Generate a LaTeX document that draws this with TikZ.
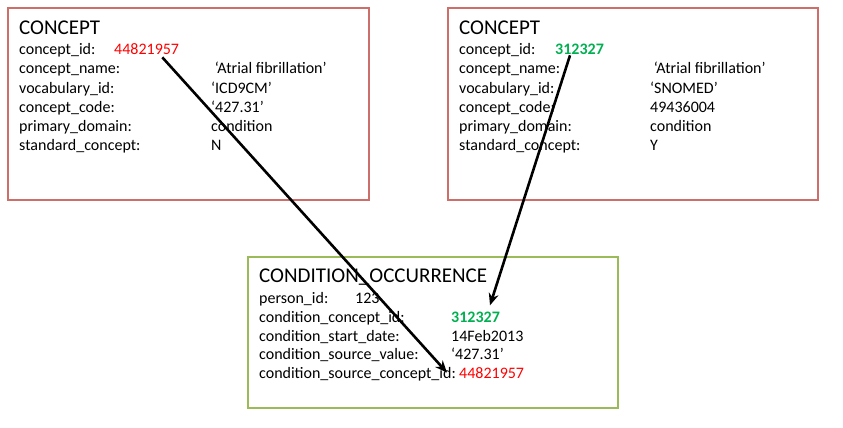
\documentclass[tikz,border=0pt]{standalone}
\usepackage{fontspec}
\setmainfont{Carlito}
\usetikzlibrary{arrows.meta}
\definecolor{boxred}{RGB}{205,110,106}
\definecolor{boxgreen}{RGB}{155,187,89}
\definecolor{valred}{RGB}{255,0,0}
\definecolor{valgreen}{RGB}{0,176,80}
\begin{document}
\begin{tikzpicture}[x=1pt,y=-1pt]
\tikzstyle{tablebox}=[line width=2.6pt]
\tikzstyle{title}=[anchor=base west,inner sep=0pt,font=\fontsize{21}{25}\selectfont]
\tikzstyle{field}=[anchor=base west,inner sep=0pt,font=\fontsize{16}{19}\selectfont]
\tikzstyle{link}=[line width=2.6pt,-{Stealth[length=12pt,width=10pt]}]
\useasboundingbox (0,0) rectangle (843,428);
% source concept
\draw[tablebox,boxred] (8,8) rectangle (369,200);
\node[title] (ltitle) at (19,35) {CONCEPT};
\node[field] (lid) at (19,55) {concept\_id:};
\node[field,text=valred] (lval) at (114,55) {44821957};
\node[field] (lname) at (19,74) {concept\_name:};
\node[field] (lnameval) at (211,74) {\ ‘Atrial fibrillation’};
\node[field] (lvoc) at (19,93) {vocabulary\_id:};
\node[field] (lvocval) at (211,93) {‘ICD9CM’};
\node[field] (lcode) at (19,112) {concept\_code:};
\node[field] (lcodeval) at (211,112) {‘427.31’};
\node[field] (ldom) at (19,131) {primary\_domain:};
\node[field] (ldomval) at (211,131) {condition};
\node[field] (lstd) at (19,150) {standard\_concept:};
\node[field] (lstdval) at (211,150) {N};
% standard concept
\draw[tablebox,boxred] (448,8) rectangle (818,200);
\node[title] (rtitle) at (459,35) {CONCEPT};
\node[field] (rid) at (459,55) {concept\_id:};
\node[field,text=valgreen,font=\fontsize{16}{19}\selectfont\bfseries] (rval) at (555,55) {312327};
\node[field] (rname) at (459,74) {concept\_name:};
\node[field] (rnameval) at (650,74) {\ ‘Atrial fibrillation’};
\node[field] (rvoc) at (459,93) {vocabulary\_id:};
\node[field] (rvocval) at (650,93) {‘SNOMED’};
\node[field] (rcode) at (459,112) {concept\_code:};
\node[field] (rcodeval) at (650,112) {49436004};
\node[field] (rdom) at (459,131) {primary\_domain:};
\node[field] (rdomval) at (650,131) {condition};
\node[field] (rstd) at (459,150) {standard\_concept:};
\node[field] (rstdval) at (650,150) {Y};
% condition occurrence
\draw[tablebox,boxgreen] (248,257) rectangle (618,408);
\node[title] (btitle) at (259,282) {CONDITION\_OCCURRENCE};
\node[field] (bperson) at (259,303) {person\_id:};
\node[field] (bpersonval) at (355,303) {123};
\node[field] (bcid) at (259,322) {condition\_concept\_id:};
\node[field,text=valgreen,font=\fontsize{16}{19}\selectfont\bfseries] (bcidval) at (451,322) {312327};
\node[field] (bdate) at (259,341) {condition\_start\_date:};
\node[field] (bdateval) at (451,341) {14Feb2013};
\node[field] (bsrc) at (259,359) {condition\_source\_value:};
\node[field] (bsrcval) at (451,359) {‘427.31’};
\node[field] (bscid) at (259,378) {condition\_source\_concept\_id:};
\node[field,text=valred] (bscidval) at (459,378) {44821957};
% links
\draw[link] ([xshift=-17pt,yshift=-2pt]lval.south east) -- ([xshift=-12pt]bscidval.west);
\draw[link] ([xshift=15pt]rval.south west) -- ([xshift=39pt,yshift=6pt]bcidval.north west);
\end{tikzpicture}
\end{document}
